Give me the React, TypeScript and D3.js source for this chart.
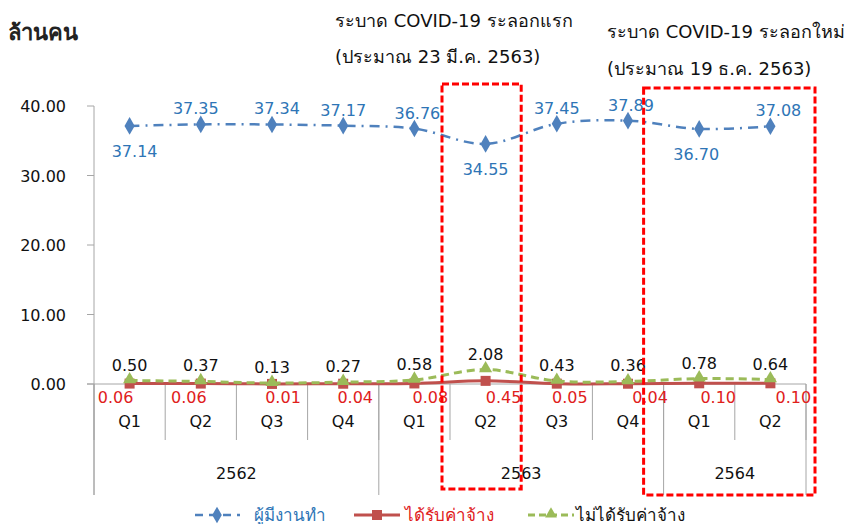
import React from "react";
import * as d3 from "d3";

const quarters = ["Q1", "Q2", "Q3", "Q4", "Q1", "Q2", "Q3", "Q4", "Q1", "Q2"];
const years = [
  { label: "2562", start: 0, end: 4 },
  { label: "2563", start: 4, end: 8 },
  { label: "2564", start: 8, end: 10 },
];
const employed = [37.14, 37.35, 37.34, 37.17, 36.76, 34.55, 37.45, 37.89, 36.7, 37.08];
const paid = [0.06, 0.06, 0.01, 0.04, 0.08, 0.45, 0.05, 0.04, 0.1, 0.1];
const unpaid = [0.5, 0.37, 0.13, 0.27, 0.58, 2.08, 0.43, 0.36, 0.78, 0.64];
const employedLabelBelow = [true, false, false, false, false, true, false, false, true, false];
const employedLabelDx = [5, -5, 5, 0, 3, 0, 0, 3, -3, 8];
const paidLabelDx = [-14, -12, 11, 12, 16, 18, 13, 22, 19, 23];
const yTicks = [0, 10, 20, 30, 40];

const W = 847;
const H = 524;
const FONT = "Tahoma, 'DejaVu Sans', sans-serif";

export default function App() {
  const idx = quarters.map((_, i) => i);
  const x = d3.scaleBand<number>().domain(idx).range([94, 806]).padding(0);
  const y = d3.scaleLinear().domain([0, 40]).range([384, 106]);
  const cx = (i: number) => (x(i) as number) + x.bandwidth() / 2;
  const line = d3
    .line<number>()
    .x((_, i) => cx(i))
    .y((d) => y(d))
    .curve(d3.curveCatmullRom.alpha(0.5));

  const blue = "#4F81BD";
  const blueText = "#2E75B6";
  const red = "#C0504D";
  const redText = "#E0201B";
  const green = "#9BBB59";
  const axisCol = "#A6A6A6";
  const bw = x.bandwidth();

  return (
    <div style={{ position: "absolute", left: 0, top: 0 }}>
      <svg width={W} height={H} style={{ display: "block", fontFamily: FONT }}>
        <rect width={W} height={H} fill="#fff" />
        {/* title */}
        <text x={8} y={40} fontSize={22} fontWeight="bold" fill="#222">ล้านคน</text>
        <text x={335} y={27} fontSize={18} fill="#111">ระบาด COVID-19 ระลอกแรก</text>
        <text x={335} y={63} fontSize={18} fill="#111">(ประมาณ 23 มี.ค. 2563)</text>
        <text x={607} y={38} fontSize={18} fill="#111">ระบาด COVID-19 ระลอกใหม่</text>
        <text x={607} y={75} fontSize={18} fill="#111">(ประมาณ 19 ธ.ค. 2563)</text>

        {/* y axis */}
        <line x1={94} x2={94} y1={y(40)} y2={495} stroke={axisCol} />
        {yTicks.map((t) => (
          <g key={t}>
            <line x1={87} x2={94} y1={y(t)} y2={y(t)} stroke={axisCol} />
            <text x={66} y={y(t) + 6} fontSize={16} textAnchor="end" fill="#111">
              {t.toFixed(2)}
            </text>
          </g>
        ))}
        {/* category axis */}
        <line x1={87} x2={806} y1={y(0)} y2={y(0)} stroke={axisCol} />
        {idx.map((i) => (
          <line key={"s" + i} x1={x(i) as number} x2={x(i) as number} y1={y(0)} y2={440} stroke={axisCol} />
        ))}
        <line x1={806} x2={806} y1={y(0)} y2={440} stroke={axisCol} />
        {years.map((yr) => (
          <g key={yr.label}>
            <line x1={x(yr.start) as number} x2={x(yr.start) as number} y1={y(0)} y2={495} stroke={axisCol} />
            <text
              x={((x(yr.start) as number) + (yr.end < 10 ? (x(yr.end) as number) : 806)) / 2}
              y={479}
              fontSize={16}
              textAnchor="middle"
              fill="#111"
            >
              {yr.label}
            </text>
          </g>
        ))}
        <line x1={806} x2={806} y1={y(0)} y2={495} stroke={axisCol} />
        {quarters.map((q, i) => (
          <text key={"q" + i} x={cx(i)} y={427} fontSize={16} textAnchor="middle" fill="#111">
            {q}
          </text>
        ))}

        {/* employed */}
        <path d={line(employed) || ""} fill="none" stroke={blue} strokeWidth={2.5} strokeDasharray="10,6,2,6" />
        {employed.map((v, i) => (
          <g key={"e" + i}>
            <path d={d3.symbol(d3.symbolDiamond, 90)() || ""} transform={`translate(${cx(i)},${y(v)})`} fill={blue} />
            <text
              x={cx(i) + employedLabelDx[i]}
              y={employedLabelBelow[i] ? y(v) + 31 : y(v) - 10}
              fontSize={16}
              textAnchor="middle"
              fill={blueText}
            >
              {v.toFixed(2)}
            </text>
          </g>
        ))}

        {/* paid */}
        <path d={line(paid) || ""} fill="none" stroke={red} strokeWidth={3} />
        {paid.map((v, i) => (
          <g key={"p" + i}>
            <rect x={cx(i) - 5} y={y(v) - 5} width={10} height={10} fill={red} />
            <text x={cx(i) + paidLabelDx[i]} y={y(0) + 19} fontSize={16} textAnchor="middle" fill={redText}>
              {v.toFixed(2)}
            </text>
          </g>
        ))}

        {/* unpaid */}
        <path d={line(unpaid) || ""} fill="none" stroke={green} strokeWidth={3} strokeDasharray="8,5" />
        {unpaid.map((v, i) => (
          <g key={"u" + i}>
            <path d={d3.symbol(d3.symbolTriangle, 75)() || ""} transform={`translate(${cx(i)},${y(v) - 1})`} fill={green} />
            <text x={cx(i)} y={y(v) - 10} fontSize={16} textAnchor="middle" fill="#111">
              {v.toFixed(2)}
            </text>
          </g>
        ))}

        {/* red dashed highlight boxes */}
        <rect
          x={(x(5) as number) - 8}
          y={84}
          width={bw + 8}
          height={405}
          fill="none"
          stroke="#FF0000"
          strokeWidth={3}
          strokeDasharray="7,3"
        />
        <rect
          x={(x(8) as number) - 20}
          y={88}
          width={2 * bw + 29}
          height={407}
          fill="none"
          stroke="#FF0000"
          strokeWidth={3}
          strokeDasharray="7,3"
        />

        {/* legend */}
        <g fontSize={17}>
          <line x1={195} x2={240} y1={515} y2={515} stroke={blue} strokeWidth={2.5} strokeDasharray="8,6" />
          <path d={d3.symbol(d3.symbolDiamond, 80)() || ""} transform="translate(217,515)" fill={blue} />
          <text x={254} y={521} fill={blueText}>ผู้มีงานทำ</text>
          <line x1={354} x2={400} y1={515} y2={515} stroke={red} strokeWidth={3} />
          <rect x={372} y={510} width={10} height={10} fill={red} />
          <text x={405} y={521} fill={redText}>ได้รับค่าจ้าง</text>
          <line x1={528} x2={574} y1={515} y2={515} stroke={green} strokeWidth={3} strokeDasharray="7,4" />
          <path d={d3.symbol(d3.symbolTriangle, 60)() || ""} transform="translate(551,514)" fill={green} />
          <text x={576} y={521} fill="#111">ไม่ได้รับค่าจ้าง</text>
        </g>
      </svg>
    </div>
  );
}
